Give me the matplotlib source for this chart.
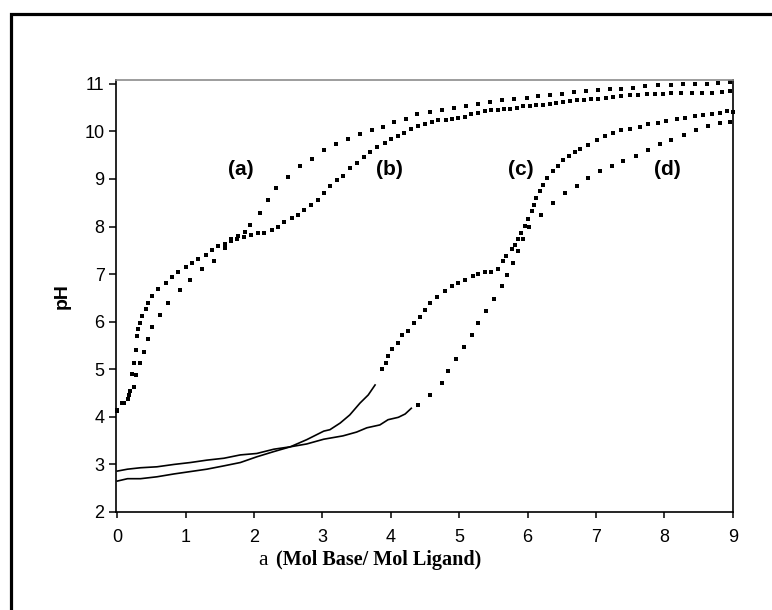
import matplotlib
matplotlib.use("Agg")
import matplotlib.pyplot as plt
import matplotlib.patches as patches

# Kurve (a) - Punkte
a_x = [0.0, 0.07, 0.15, 0.19, 0.22, 0.25, 0.27, 0.29, 0.31, 0.33, 0.36, 0.42, 0.45, 0.51, 0.6, 0.71,
       0.8, 0.89, 1.0, 1.09, 1.18, 1.3, 1.39, 1.48, 1.57, 1.67, 1.77, 1.87, 1.94, 2.09, 2.21, 2.32,
       2.5, 2.67, 2.85, 3.02, 3.2, 3.38, 3.55, 3.72, 3.89, 4.05, 4.22, 4.39, 4.57, 4.75, 4.92, 5.1,
       5.28, 5.45, 5.63, 5.8, 5.99, 6.16, 6.33, 6.51, 6.68, 6.86, 7.03, 7.2, 7.37, 7.54, 7.72, 7.91,
       8.1, 8.27, 8.45, 8.62, 8.79, 8.96]
a_y = [4.12, 4.29, 4.38, 4.55, 4.9, 5.13, 5.41, 5.69, 5.85, 5.97, 6.11, 6.27, 6.39, 6.53, 6.69, 6.82,
       6.94, 7.04, 7.15, 7.23, 7.32, 7.4, 7.5, 7.59, 7.64, 7.73, 7.8, 7.88, 8.04, 8.29, 8.55, 8.8,
       9.05, 9.27, 9.42, 9.6, 9.73, 9.83, 9.94, 10.03, 10.1, 10.2, 10.27, 10.36, 10.41, 10.45, 10.5, 10.53,
       10.58, 10.62, 10.66, 10.69, 10.71, 10.74, 10.76, 10.79, 10.83, 10.85, 10.87, 10.89, 10.9, 10.92, 10.95, 10.97,
       10.98, 10.99, 11.0, 11.0, 11.01, 11.03]

# Kurve (b) - Punkte
b_x = [0.0, 0.1, 0.17, 0.24, 0.27, 0.33, 0.39, 0.45, 0.51, 0.62, 0.74, 0.92, 1.06, 1.24, 1.41, 1.58,
       1.67, 1.75, 1.85, 1.96, 2.06, 2.15, 2.26, 2.35, 2.44, 2.55, 2.65, 2.73, 2.84, 2.93, 3.03, 3.11,
       3.21, 3.3, 3.41, 3.5, 3.61, 3.7, 3.8, 3.91, 4.01, 4.1, 4.19, 4.3, 4.4, 4.5, 4.6, 4.69,
       4.8, 4.9, 4.99, 5.09, 5.18, 5.28, 5.38, 5.47, 5.57, 5.66, 5.74, 5.84, 5.94, 6.04, 6.13, 6.23,
       6.33, 6.42, 6.52, 6.62, 6.72, 6.82, 6.93, 7.03, 7.14, 7.25, 7.37, 7.5, 7.62, 7.74, 7.86, 7.98,
       8.1, 8.25, 8.4, 8.55, 8.7, 8.85, 8.96]
b_y = [4.15, 4.3, 4.45, 4.63, 4.87, 5.14, 5.37, 5.64, 5.89, 6.15, 6.4, 6.66, 6.88, 7.1, 7.28, 7.54,
       7.69, 7.74, 7.78, 7.83, 7.87, 7.87, 7.92, 7.99, 8.09, 8.17, 8.25, 8.34, 8.46, 8.55, 8.71, 8.85,
       8.97, 9.07, 9.22, 9.33, 9.47, 9.57, 9.67, 9.75, 9.83, 9.9, 9.97, 10.06, 10.11, 10.15, 10.2, 10.23,
       10.24, 10.27, 10.29, 10.31, 10.36, 10.39, 10.43, 10.44, 10.44, 10.46, 10.48, 10.5, 10.53, 10.54, 10.55, 10.55,
       10.57, 10.59, 10.61, 10.63, 10.65, 10.66, 10.68, 10.69, 10.71, 10.72, 10.74, 10.76, 10.77, 10.78, 10.78, 10.79,
       10.8, 10.8, 10.8, 10.81, 10.81, 10.83, 10.85]

# Kurve (c) - Linie + Punkte
c_line_x = [0, 0.15, 0.34, 0.58, 0.83, 1.07, 1.31, 1.56, 1.8, 2.04, 2.29, 2.53, 2.77, 3.02, 3.11,
            3.26, 3.4, 3.55, 3.67, 3.77]
c_line_y = [2.65, 2.7, 2.7, 2.74, 2.8, 2.85, 2.9, 2.97, 3.04, 3.16, 3.27, 3.37, 3.52, 3.7, 3.73,
            3.87, 4.04, 4.29, 4.46, 4.67]
c_x = [3.87, 3.93, 3.96, 4.02, 4.11, 4.16, 4.25, 4.34, 4.43, 4.5, 4.58, 4.68, 4.79, 4.89, 4.99, 5.08,
       5.2, 5.28, 5.38, 5.47, 5.57, 5.64, 5.69, 5.77, 5.81, 5.86, 5.91, 5.96, 6.01, 6.06, 6.09, 6.13,
       6.18, 6.23, 6.29, 6.37, 6.45, 6.52, 6.6, 6.69, 6.76, 6.89, 7.01, 7.13, 7.25, 7.37, 7.5, 7.64,
       7.76, 7.91, 8.03, 8.18, 8.3, 8.45, 8.57, 8.69, 8.81, 8.91, 9.0]
c_y = [5.0, 5.13, 5.28, 5.43, 5.55, 5.71, 5.8, 5.97, 6.1, 6.24, 6.39, 6.51, 6.64, 6.74, 6.81, 6.87,
       6.95, 7.01, 7.04, 7.05, 7.11, 7.27, 7.38, 7.52, 7.62, 7.73, 7.87, 8.01, 8.15, 8.32, 8.46, 8.6,
       8.74, 8.88, 9.02, 9.16, 9.27, 9.39, 9.48, 9.56, 9.62, 9.71, 9.82, 9.9, 9.97, 10.03, 10.06, 10.1,
       10.15, 10.18, 10.22, 10.25, 10.29, 10.32, 10.34, 10.36, 10.39, 10.42, 10.41]

# Kurve (d) - Linie + Punkte
d_line_x = [0, 0.15, 0.34, 0.58, 0.83, 1.07, 1.31, 1.56, 1.8, 2.04, 2.29, 2.53, 2.77, 3.02, 3.3,
            3.5, 3.65, 3.84, 3.96, 4.11, 4.21, 4.3]
d_line_y = [2.86, 2.9, 2.93, 2.95, 3.0, 3.04, 3.09, 3.13, 3.2, 3.23, 3.32, 3.37, 3.43, 3.53, 3.6,
            3.68, 3.77, 3.83, 3.94, 3.99, 4.06, 4.18]
d_x = [4.4, 4.57, 4.75, 4.84, 4.95, 5.07, 5.19, 5.28, 5.39, 5.51, 5.62, 5.7, 5.79, 5.86, 5.93, 6.02,
       6.2, 6.37, 6.55, 6.72, 6.89, 7.06, 7.23, 7.4, 7.59, 7.76, 7.93, 8.1, 8.29, 8.47, 8.64, 8.81, 8.96]
d_y = [4.25, 4.45, 4.71, 4.97, 5.21, 5.47, 5.73, 5.97, 6.23, 6.47, 6.74, 6.99, 7.24, 7.48, 7.74, 7.98,
       8.25, 8.5, 8.71, 8.85, 9.02, 9.16, 9.27, 9.38, 9.48, 9.6, 9.73, 9.82, 9.92, 10.03, 10.11, 10.17, 10.2]

labels = ['(a)', '(b)', '(c)', '(d)']
label_x = [1.8, 3.98, 5.9, 8.05]
label_y = [9.2, 9.2, 9.2, 9.2]

x_ticks = list(range(0, 10))
y_ticks = list(range(2, 12))

W, H = 772, 610
fig = plt.figure(figsize=(W / 100, H / 100), dpi=100)
ax = fig.add_axes([115.7 / W, 1 - 512 / H, (732.7 - 115.7) / W, (512 - 80) / H])

# Rahmen um das ganze Bild (rechts/unten abgeschnitten)
fig.patches.append(patches.Rectangle((10.5 / W, -0.2), 1.5, 1.2 - 13.5 / H, transform=fig.transFigure,
                                     fill=False, edgecolor='black', linewidth=2.3, clip_on=False))

ms = 2.3
ax.plot(a_x, a_y, 's', color='black', markersize=ms, markeredgewidth=0, clip_on=False)
ax.plot(b_x, b_y, 's', color='black', markersize=ms, markeredgewidth=0, clip_on=False)
ax.plot(c_x, c_y, 's', color='black', markersize=ms, markeredgewidth=0, clip_on=False)
ax.plot(d_x, d_y, 's', color='black', markersize=ms, markeredgewidth=0, clip_on=False)
ax.plot(c_line_x, c_line_y, '-', color='black', linewidth=1.2)
ax.plot(d_line_x, d_line_y, '-', color='black', linewidth=1.2)

for t, lx, ly in zip(labels, label_x, label_y):
    ax.text(lx, ly, t, fontsize=15, fontweight='bold', family='Liberation Sans', ha='center', va='center')

ax.set_xlim(-0.023, 9)
ax.set_ylim(2, 11.08)
ax.set_xticks(x_ticks)
ax.set_yticks(y_ticks)
ax.tick_params(axis='both', direction='out', width=1.1, labelsize=13, color='black')
ax.tick_params(axis='x', length=4, pad=8)
ax.tick_params(axis='y', length=5, pad=3)
for lab in ax.get_xticklabels() + ax.get_yticklabels():
    lab.set_family('Liberation Sans')

for s in ['left', 'bottom', 'right']:
    ax.spines[s].set_linewidth(1.2)
    ax.spines[s].set_color('black')
ax.spines['top'].set_linewidth(1.2)
ax.spines['top'].set_color('#8c8c8c')

fig.text(62 / W, 1 - 296 / H, 'pH', rotation=90, fontsize=14, fontweight='bold',
         family='Liberation Sans', ha='center', va='center')
fig.text(258 / W, 1 - 565 / H, 'a', fontsize=15.5, family='Liberation Serif', ha='left', va='baseline')
fig.text(276 / W, 1 - 565 / H, '(Mol Base/ Mol Ligand)', fontsize=14.5, fontweight='bold',
         family='Liberation Serif', ha='left', va='baseline')

fig.savefig('out.png', dpi=100)
